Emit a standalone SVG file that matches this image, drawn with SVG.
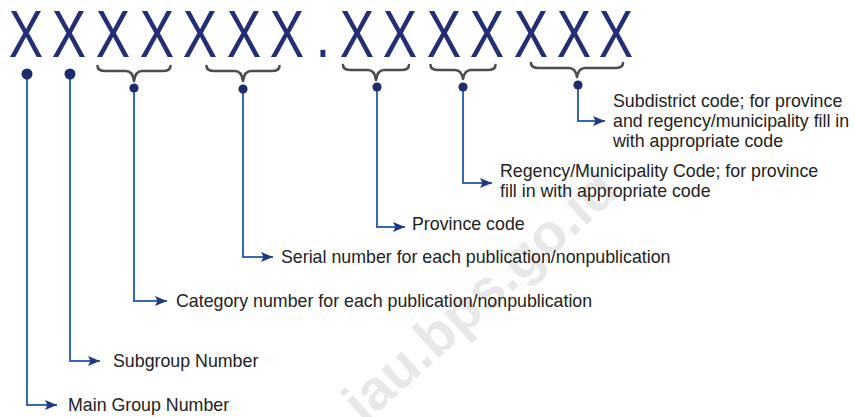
<svg xmlns="http://www.w3.org/2000/svg" width="855" height="417" viewBox="0 0 855 417">
<style>
.code{font-family:"Liberation Sans",Arial,sans-serif;font-size:66px;fill:#232e74;text-anchor:middle}
.lbl{font-family:"Liberation Sans",Arial,sans-serif;font-size:17.8px;fill:#222}
.brace{fill:none;stroke:#4d4d4d;stroke-width:2.6;stroke-linecap:round;stroke-linejoin:round}
.conn{fill:none;stroke:#3767b2;stroke-width:2}
.dot{fill:#1f2c6c}
.wm{font-family:"Liberation Sans",Arial,sans-serif;font-size:56px;font-weight:bold;fill:#e8e8e8}
</style>
<defs>
<marker id="arr" markerUnits="userSpaceOnUse" markerWidth="13" markerHeight="11" refX="12" refY="5" orient="auto">
<path d="M0,0 L12,5 L0,10 L2.5,5 z" fill="#203a82"/>
</marker>
</defs>
<rect width="855" height="417" fill="#ffffff"/>
<text class="wm" transform="translate(364,425) rotate(-42)">iau.bps.go.id</text>
<g id="code">
<text class="code" transform="translate(0,57) scale(0.78,1)" x="33.3 88.5 144.9 201.3 256.4 312.8 367.9 414.1 457.7 512.8 569.2 624.4 680.8 735.9 789.7" y="0">XXXXXXX.XXXXXXX</text>
</g>
<g id="braces">
<path class="brace" d="M97.5,66 C97.5,70 100.5,71 105.5,71 L126,71 C130,71 133,74 134,81 C135,74 138,71 142,71 L162.5,71 C167.5,71 170.5,70 170.5,66"/>
<path class="brace" d="M206.5,66 C206.5,70 209.5,71 214.5,71 L235,71 C239,71 242,74 243,81 C244,74 247,71 251,71 L271.5,71 C276.5,71 279.5,70 279.5,66"/>
<path class="brace" d="M343,65 C343,69 346,70 351,70 L368,70 C372,70 375,73 376,80 C377,73 380,70 384,70 L401,70 C406,70 409,69 409,65"/>
<path class="brace" d="M430.5,65 C430.5,69 433.5,70 438.5,70 L455,70 C459,70 462,73 463,79 C464,73 467,70 471,70 L487.5,70 C492.5,70 495.5,69 495.5,65"/>
<path class="brace" d="M531,63 C531,67 534,68 539,68 L569,68 C573,68 576,71 577,77 C578,71 581,68 585,68 L615,68 C620,68 623,67 623,63"/>
</g>
<g id="connectors">
<path class="conn" marker-end="url(#arr)" d="M27,74 V405 H57"/>
<path class="conn" marker-end="url(#arr)" d="M70,74 V361 H100"/>
<path class="conn" marker-end="url(#arr)" d="M134,88 V301 H167"/>
<path class="conn" marker-end="url(#arr)" d="M243,89 V257 H273"/>
<path class="conn" marker-end="url(#arr)" d="M377,87 V227 H405"/>
<path class="conn" marker-end="url(#arr)" d="M463,87 V183 H492"/>
<path class="conn" marker-end="url(#arr)" d="M578,85 V121 H605"/>
<circle class="dot" cx="27" cy="74" r="5.5"/>
<circle class="dot" cx="70" cy="74" r="5.5"/>
<circle class="dot" cx="134" cy="88" r="4.6"/>
<circle class="dot" cx="243" cy="89" r="4.6"/>
<circle class="dot" cx="377" cy="87" r="4.6"/>
<circle class="dot" cx="463" cy="87" r="4.6"/>
<circle class="dot" cx="578" cy="85" r="4.6"/>
</g>
<g id="main-group"><text class="lbl" x="68" y="411">Main Group Number</text></g>
<g id="subgroup"><text class="lbl" x="113" y="367">Subgroup Number</text></g>
<g id="category"><text class="lbl" x="176" y="307">Category number for each publication/nonpublication</text></g>
<g id="serial"><text class="lbl" x="281" y="263">Serial number for each publication/nonpublication</text></g>
<g id="province"><text class="lbl" x="412" y="230">Province code</text></g>
<g id="regency"><text class="lbl" x="500" y="177">Regency/Municipality Code; for province</text><text class="lbl" x="500" y="197">fill in with appropriate code</text></g>
<g id="subdistrict"><text class="lbl" x="613" y="107">Subdistrict code; for province</text><text class="lbl" x="613" y="127">and regency/municipality fill in</text><text class="lbl" x="613" y="147">with appropriate code</text></g>
</svg>
